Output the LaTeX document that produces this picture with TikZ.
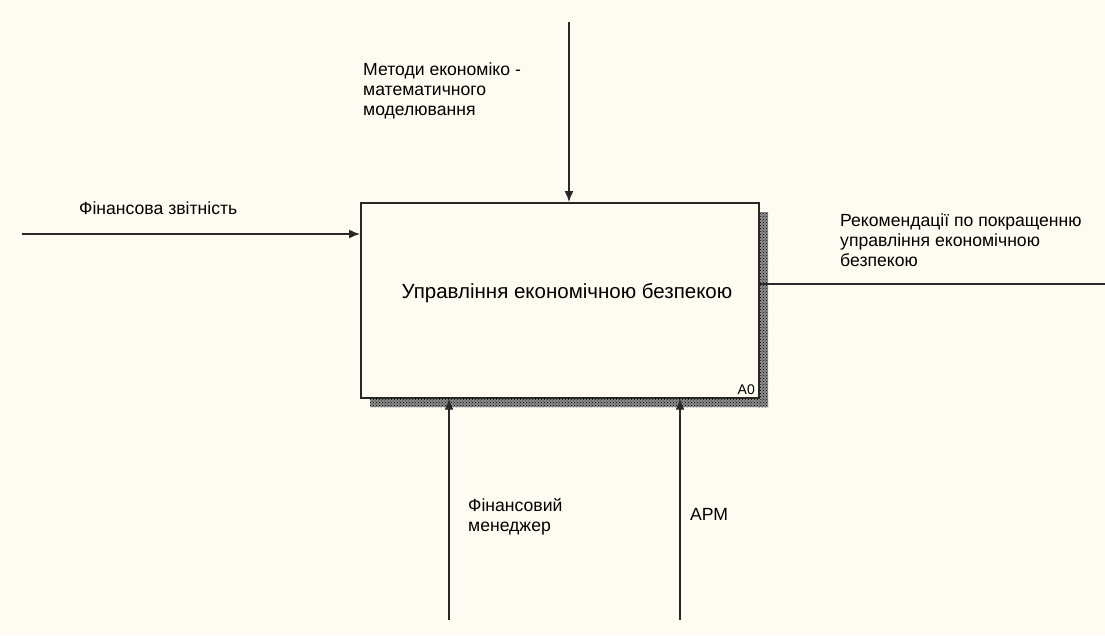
\documentclass[tikz,border=0pt]{standalone}
\usepackage{fontspec}
\setmainfont{Liberation Sans}
\usepackage{tikz}
\usetikzlibrary{arrows.meta,patterns,positioning}
\definecolor{paper}{RGB}{255,251,240}
\definecolor{ink}{RGB}{40,40,40}

\begin{document}
\begin{tikzpicture}[x=1pt, y=-1pt,
		lbl/.style={font=\fontsize{17.6}{20}\selectfont, align=left, inner sep=0pt, anchor=north west},
		flow/.style={-{Latex[length=11pt,width=9pt]}, color=ink, line width=1.4pt},
		shade/.style={fill=black!45, postaction={pattern=crosshatch dots, pattern color=black}}]
						\useasboundingbox[fill=paper] (0,0) rectangle (1105,635);
						\fill[shade] (758,212) rectangle (768,407);
						\fill[shade] (370,397) rectangle (768,407);
						\node[draw=ink, line width=1.7pt, fill=paper, minimum width=398pt, minimum height=195pt, anchor=north west] (func) at (360,202) {};
						\node[font=\fontsize{20.5}{22}\selectfont, inner sep=0pt, anchor=base] (title) at (567,298) {Управління економічною безпекою};
						\node[font=\fontsize{14}{14}\selectfont, inner sep=0pt, anchor=base east] (num) at (755,394) {A0};
						\coordinate (in0) at (22,234);
						\coordinate (ctl0) at (569,22);
						\coordinate (out0) at (1105,284);
						\coordinate (mech1) at (449,620);
						\coordinate (mech2) at (680,620);
						\draw[flow] (in0) -- (func.west |- in0);
						\draw[flow] (ctl0) -- (ctl0 |- func.north);
						\draw[color=ink, line width=1.4pt] (func.east |- out0) -- (out0);
						\draw[flow] (mech1) -- (mech1 |- func.south);
						\draw[flow] (mech2) -- (mech2 |- func.south);
						\node[lbl] (inlbl) at (79,202) {Фінансова звітність};
						\node[lbl] (ctllbl) at (363,63) {Методи економіко -\\математичного\\моделювання};
						\node[lbl] (outlbl) at (840,214) {Рекомендації по покращенню\\управління економічною\\безпекою};
						\node[lbl] (mechlbl1) at (468,498) {Фінансовий\\менеджер};
						\node[lbl] (mechlbl2) at (690,508) {АРМ};
					\end{tikzpicture}
\end{document}
